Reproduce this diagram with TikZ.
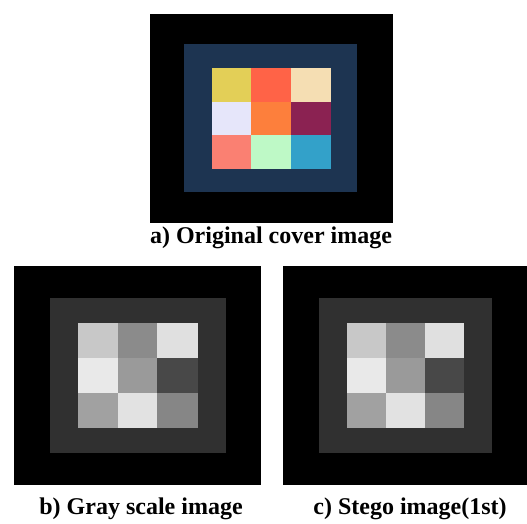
\documentclass[tikz,border=0pt]{standalone}
\usepackage{fontspec}
\setmainfont{Liberation Serif}
\definecolor{frameblue}{HTML}{1D3451}
\definecolor{cA}{HTML}{E3CF57}
\definecolor{cB}{HTML}{FF6347}
\definecolor{cC}{HTML}{F5DEB3}
\definecolor{cD}{HTML}{E6E6FA}
\definecolor{cE}{HTML}{FD7F3C}
\definecolor{cF}{HTML}{8B2252}
\definecolor{cG}{HTML}{FA8072}
\definecolor{cH}{HTML}{BEF9C6}
\definecolor{cI}{HTML}{33A1C9}
\definecolor{gframe}{HTML}{303030}
\definecolor{gA}{HTML}{C8C8C8}
\definecolor{gB}{HTML}{8B8B8B}
\definecolor{gC}{HTML}{E0E0E0}
\definecolor{gD}{HTML}{E9E9E9}
\definecolor{gE}{HTML}{9A9A9A}
\definecolor{gF}{HTML}{484848}
\definecolor{gG}{HTML}{A1A1A1}
\definecolor{gH}{HTML}{E2E2E2}
\definecolor{gI}{HTML}{868686}
\tikzset{
  caption/.style={anchor=base, inner sep=0pt, font=\fontsize{24}{24}\selectfont\bfseries},
}
\begin{document}
\begin{tikzpicture}[x=1pt,y=-1pt]
\useasboundingbox (0,0) rectangle (527,523);
% ---------- a) original cover image
\fill[black] (150,14) rectangle (393,223);
\fill[frameblue] (184,44) rectangle (357,192);
\fill[cA] (212,68) rectangle (251,102);
\fill[cB] (251,68) rectangle (291,102);
\fill[cC] (291,68) rectangle (331,102);
\fill[cD] (212,102) rectangle (251,135);
\fill[cE] (251,102) rectangle (291,135);
\fill[cF] (291,102) rectangle (331,135);
\fill[cG] (212,135) rectangle (251,169);
\fill[cH] (251,135) rectangle (291,169);
\fill[cI] (291,135) rectangle (331,169);
\node[caption] (capa) at (271,243) {a) Original cover image};
% ---------- b) gray scale image
\fill[black] (14,266) rectangle (261,485);
\fill[gframe] (50,298) rectangle (226,453);
\fill[gA] (78,323) rectangle (118,358);
\fill[gB] (118,323) rectangle (157,358);
\fill[gC] (157,323) rectangle (198,358);
\fill[gD] (78,358) rectangle (118,393);
\fill[gE] (118,358) rectangle (157,393);
\fill[gF] (157,358) rectangle (198,393);
\fill[gG] (78,393) rectangle (118,428);
\fill[gH] (118,393) rectangle (157,428);
\fill[gI] (157,393) rectangle (198,428);
\node[caption] (capb) at (141,514) {b) Gray scale image};
% ---------- c) stego image
\fill[black] (283,266) rectangle (527,485);
\fill[gframe] (319,298) rectangle (492,453);
\fill[gA] (347,323) rectangle (386,358);
\fill[gB] (386,323) rectangle (425,358);
\fill[gC] (425,323) rectangle (464,358);
\fill[gD] (347,358) rectangle (386,393);
\fill[gE] (386,358) rectangle (425,393);
\fill[gF] (425,358) rectangle (464,393);
\fill[gG] (347,393) rectangle (386,428);
\fill[gH] (386,393) rectangle (425,428);
\fill[gI] (425,393) rectangle (464,428);
\node[caption] (capc) at (410,514) {c) Stego image(1st)};
\end{tikzpicture}
\end{document}
